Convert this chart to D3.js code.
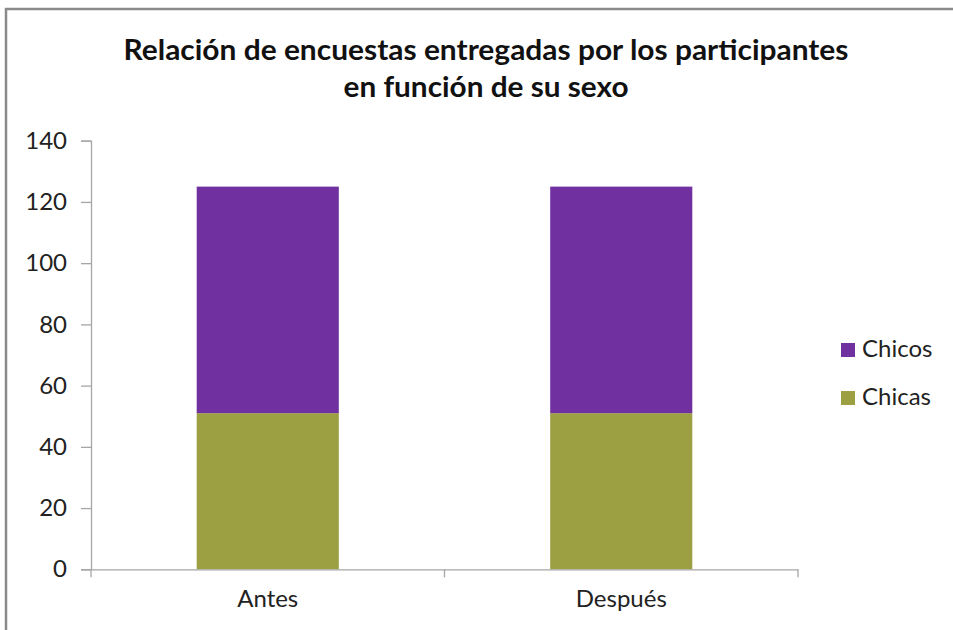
<!DOCTYPE html>
<html><head><meta charset="utf-8">
<script src="https://cdn.jsdelivr.net/npm/d3@7"></script>
<style>body{margin:0;background:#fff}svg{display:block}</style>
</head><body>
<svg id="c" width="953" height="630"></svg>
<script>
const categories = ["Antes", "Después"];
const chicas = [51, 51];
const chicos = [74, 74];
const seriesNames = ["Chicas", "Chicos"];
const yTicks = [0, 20, 40, 60, 80, 100, 120, 140];
const titleLines = ["Relación de encuestas entregadas por los participantes", "en función de su sexo"];

const colors = {Chicas: "#9c9f42", Chicos: "#7030a0"};
const svg = d3.select("#c");
const font = "Lato, 'Open Sans', sans-serif";

// frame
svg.append("rect").attr("x", 6).attr("y", 9).attr("width", 960).attr("height", 640)
  .attr("fill", "none").attr("stroke", "#8a8a8a").attr("stroke-width", 2.5);

const pLeft = 91, pRight = 798, pTop = 140.7, pBottom = 569.3;
const x = d3.scaleBand().domain(categories).range([pLeft, pRight]).paddingInner(0).paddingOuter(0);
const y = d3.scaleLinear().domain([0, 140]).range([pBottom, pTop]);

const rows = categories.map((c, i) => ({cat: c, Chicas: chicas[i], Chicos: chicos[i]}));
const stack = d3.stack().keys(seriesNames)(rows);
const barW = x.bandwidth() * 0.402;

svg.append("g").selectAll("g").data(stack).join("g")
  .attr("fill", d => colors[d.key])
  .selectAll("rect").data(d => d).join("rect")
  .attr("x", d => x(d.data.cat) + (x.bandwidth() - barW) / 2)
  .attr("width", barW)
  .attr("y", d => y(d[1]))
  .attr("height", d => y(d[0]) - y(d[1]));

// y axis
const yAxis = svg.append("g").attr("transform", `translate(${pLeft},0)`)
  .call(d3.axisLeft(y).tickValues(yTicks).tickSize(10).tickPadding(14).tickFormat(d3.format("d")));
yAxis.select(".domain").attr("stroke", "#a6a6a6").attr("stroke-width", 1.3);
yAxis.selectAll(".tick line").attr("stroke", "#a6a6a6").attr("stroke-width", 1.3);
yAxis.selectAll("text").attr("font-family", font).attr("font-size", 24).attr("fill", "#222");

// x axis
const xAxis = svg.append("g").attr("transform", `translate(0,${pBottom})`)
  .call(d3.axisBottom(x).tickSize(0).tickPadding(21));
xAxis.select(".domain").attr("stroke", "#a6a6a6").attr("stroke-width", 1.3);
xAxis.selectAll("text").attr("font-family", font).attr("font-size", 24).attr("fill", "#222");
const bounds = [pLeft, ...categories.map(c => x(c) + x.bandwidth())];
svg.append("g").selectAll("line").data(bounds).join("line")
  .attr("x1", d => d).attr("x2", d => d).attr("y1", pBottom).attr("y2", pBottom + 8)
  .attr("stroke", "#a6a6a6").attr("stroke-width", 1.3);

// title
const titleWidths = [725, 285];
svg.append("g").selectAll("text").data(titleLines).join("text")
  .attr("x", 486).attr("y", (d, i) => 60 + i * 37)
  .attr("text-anchor", "middle").attr("font-family", font).attr("font-weight", "bold")
  .attr("font-size", 28).attr("fill", "#111")
  .attr("textLength", (d, i) => titleWidths[i]).attr("lengthAdjust", "spacingAndGlyphs")
  .text(d => d);

// legend
const legendItems = ["Chicos", "Chicas"];
const lg = svg.append("g").selectAll("g").data(legendItems).join("g")
  .attr("transform", (d, i) => `translate(841,${343 + i * 48})`);
lg.append("rect").attr("width", 14).attr("height", 14).attr("fill", d => colors[d]);
lg.append("text").attr("x", 21).attr("y", 14).attr("font-family", font).attr("font-size", 24)
  .attr("fill", "#222").text(d => d);
</script>
</body></html>
